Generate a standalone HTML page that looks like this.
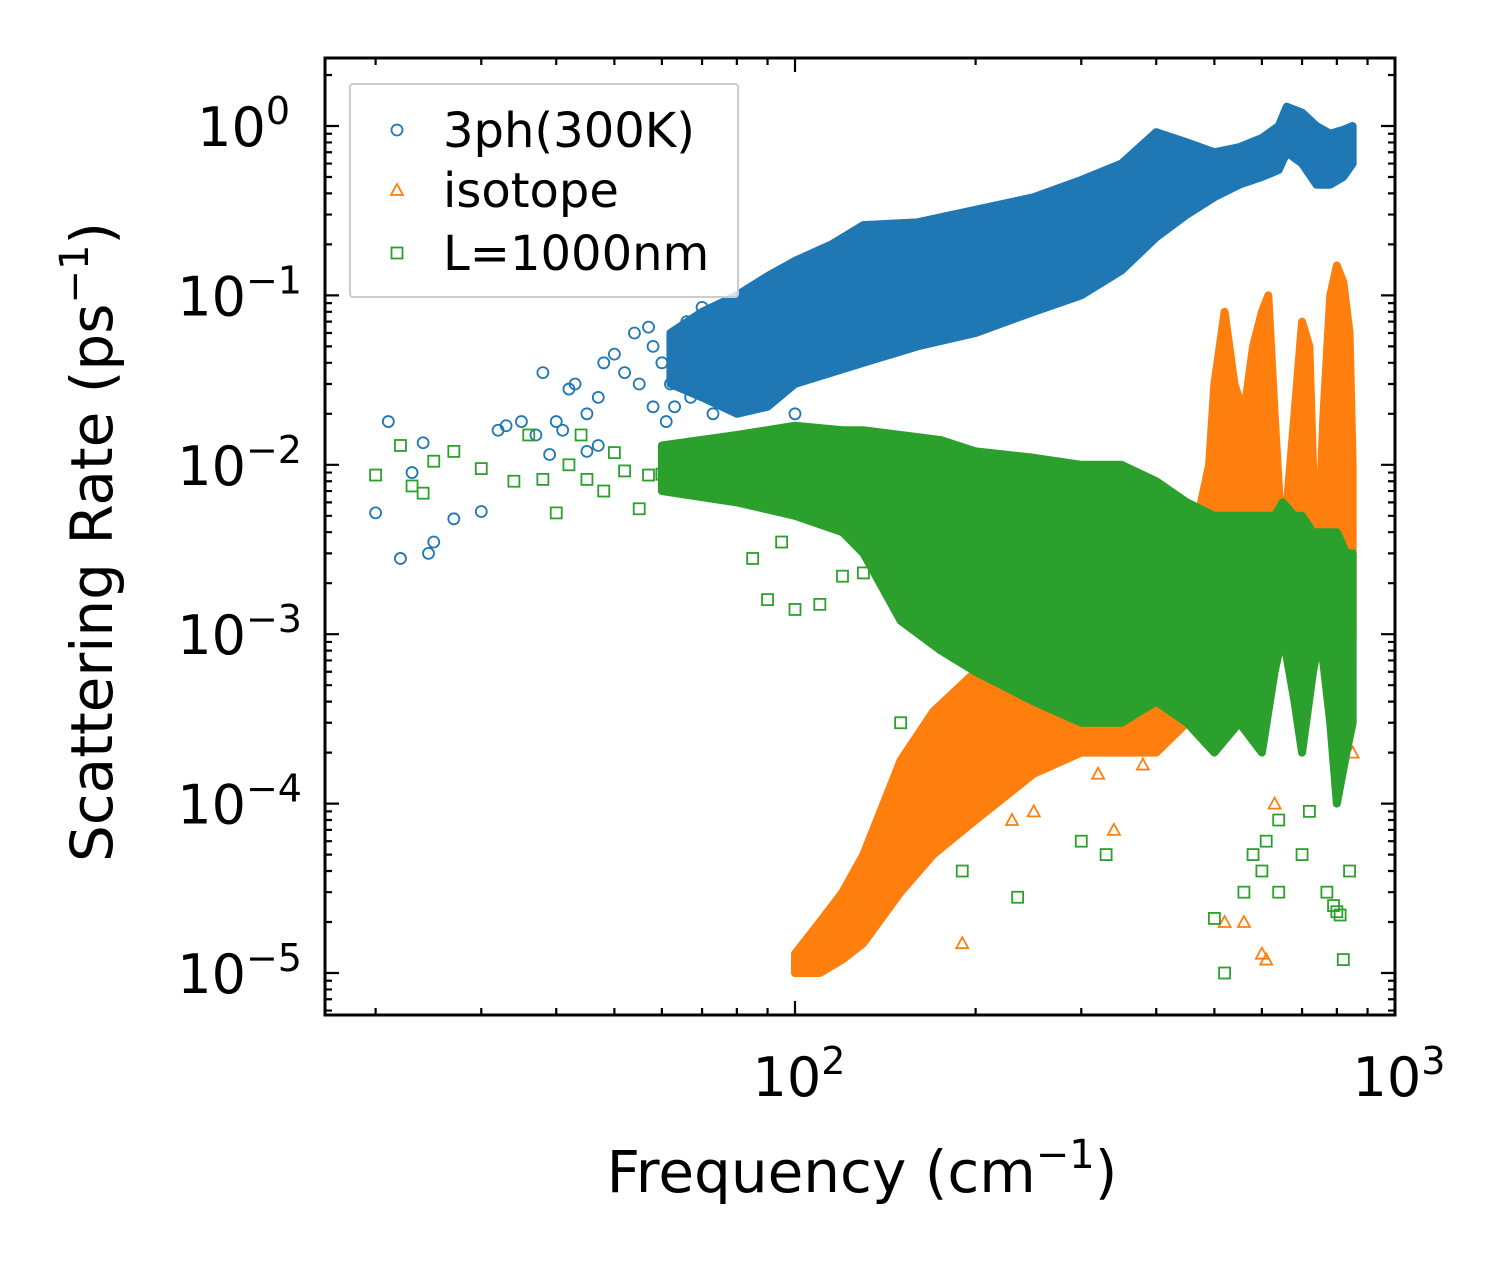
<!DOCTYPE html>
<html><head><meta charset="utf-8"><style>
body{margin:0;background:#fff}
svg text{font-family:"DejaVu Sans","Liberation Sans",sans-serif;fill:#000}
</style></head><body>
<svg id="c" width="1503" height="1265" xmlns="http://www.w3.org/2000/svg"></svg>
<script>
// ---- data (frequency cm^-1, rate ps^-1) ----
const blueBandF=[62,70,80,90,100,115,130,160,200,250,300,350,400,450,500,550,600,640,660,700,740,780,820,850];
const blueBandHi=[0.06,0.08,0.1,0.13,0.16,0.2,0.26,0.27,0.32,0.38,0.48,0.6,0.92,0.8,0.7,0.75,0.85,1.0,1.3,1.2,1.0,0.9,0.95,1.0];
const blueBandLo=[0.03,0.025,0.02,0.022,0.03,0.035,0.04,0.05,0.06,0.08,0.1,0.14,0.22,0.3,0.38,0.45,0.5,0.55,0.7,0.6,0.45,0.45,0.5,0.6];
const blueF=[20,21,22,23,24,24.5,25,27,30,32,33,35,37,38,40,42,43,45,47,48,50,52,54,55,57,58,60,62,64,66,68,70,72,75,78,80,85,90,95,100,45,47,41,39,63,67,73,58,61];
const blueR=[0.0052,0.018,0.0028,0.009,0.0135,0.003,0.0035,0.0048,0.0053,0.016,0.017,0.018,0.015,0.035,0.018,0.028,0.03,0.02,0.025,0.04,0.045,0.035,0.06,0.03,0.065,0.05,0.04,0.03,0.055,0.07,0.04,0.085,0.06,0.05,0.03,0.08,0.1,0.05,0.12,0.02,0.012,0.013,0.016,0.0115,0.022,0.025,0.02,0.022,0.018];
const orBandF=[100,110,120,130,150,170,200,250,300,350,400,450,470,490,500,520,540,560,580,600,615,630,650,680,700,720,740,760,780,800,820,840,850];
const orBandHi=[1.3e-5,2e-5,3e-5,5e-5,1.8e-4,3.5e-4,6e-4,8e-4,7e-4,8e-4,1e-3,2e-3,5e-3,0.01,0.03,0.08,0.03,0.02,0.05,0.08,0.1,0.02,0.003,0.02,0.07,0.05,0.002,0.02,0.1,0.15,0.12,0.06,0.01];
const orBandLo=[1e-5,1e-5,1.2e-5,1.5e-5,3e-5,5e-5,8e-5,1.5e-4,2e-4,2e-4,2e-4,3e-4,5e-4,8e-4,1e-3,1e-3,1e-3,1e-3,1e-3,1e-3,1e-3,1e-3,1e-3,1e-3,1e-3,1e-3,1e-3,1e-3,1e-3,1e-3,1e-3,1e-3,1e-3];
const orF=[190,230,250,320,340,380,520,560,600,610,630,850];
const orR=[1.5e-5,8e-5,9e-5,1.5e-4,7e-5,1.7e-4,2e-5,2e-5,1.3e-5,1.2e-5,1e-4,2e-4];
const grBandF=[60,80,100,120,130,150,175,200,250,300,350,400,450,500,550,600,630,650,680,700,730,750,780,800,830,850];
const grBandHi=[0.013,0.015,0.017,0.016,0.016,0.015,0.014,0.012,0.011,0.01,0.01,0.008,0.006,0.005,0.005,0.005,0.005,0.006,0.005,0.005,0.004,0.004,0.004,0.004,0.003,0.003];
const grBandLo=[0.007,0.006,0.005,0.004,0.003,0.0012,8e-4,6e-4,4e-4,3e-4,3e-4,4e-4,3e-4,2e-4,3e-4,2e-4,6e-4,1e-3,4e-4,2e-4,6e-4,1e-3,3e-4,1e-4,2e-4,3e-4];
const grF=[20,22,23,24,25,27,30,34,36,38,40,42,44,45,48,50,52,55,57,60,85,90,95,100,110,120,130,150,190,235,300,330,500,520,560,580,610,640,700,720,770,790,800,810,820,840,640,600];
const grR=[0.0087,0.013,0.0075,0.0068,0.0105,0.012,0.0095,0.008,0.015,0.0082,0.0052,0.01,0.015,0.0082,0.007,0.0118,0.0092,0.0055,0.0087,0.0088,0.0028,0.0016,0.0035,0.0014,0.0015,0.0022,0.0023,0.0003,0.00004,0.000028,0.00006,0.00005,0.000021,0.00001,0.00003,0.00005,0.00006,0.00008,0.00005,0.00009,0.00003,0.000025,0.000023,0.000022,0.000012,0.00004,0.00003,0.00004];
const xTicks=[100,1000], xTickLbl=["2","3"];
const yTicks=[1,0.1,0.01,0.001,0.0001,0.00001], yTickLbl=["0","\u22121","\u22122","\u22123","\u22124","\u22125"];
// ---- axes ----
const L=325,R=1395,T=58,B=1015;
const X=f=>795+600*(Math.log10(f)-2);
const Y=v=>126-169.4*Math.log10(v);
const svg=document.getElementById('c');const NS='http://www.w3.org/2000/svg';
function mk(t,a,p){const e=document.createElementNS(NS,t);for(const k in a)e.setAttribute(k,a[k]);(p||svg).appendChild(e);return e;}
function band(F,Hi,Lo,col,name){let d='M'+F.map((f,i)=>X(f)+','+Y(Hi[i])).join('L');
 for(let i=F.length-1;i>=0;i--)d+='L'+X(F[i])+','+Y(Lo[i]);
 const p=mk('path',{d:d+'Z',fill:col,stroke:col,'stroke-width':8,'stroke-linejoin':'round'});
 
 }
band(blueBandF,blueBandHi,blueBandLo,'#1f77b4','3ph-dense-band');
blueF.forEach((f,i)=>{const c=mk('circle',{cx:X(f),cy:Y(blueR[i]),r:5.5,fill:'none',stroke:'#1f77b4','stroke-width':1.8});
 
 });
band(orBandF,orBandHi,orBandLo,'#ff7f0e','isotope-dense-band');
orF.forEach((f,i)=>{const x=X(f),y=Y(orR[i]);const p=mk('path',{d:`M${x},${y-6}L${x+6},${y+5}L${x-6},${y+5}Z`,fill:'none',stroke:'#ff7f0e','stroke-width':1.8});
 
 });
band(grBandF,grBandHi,grBandLo,'#2ca02c','boundary-dense-band');
grF.forEach((f,i)=>{const r=mk('rect',{x:X(f)-5.5,y:Y(grR[i])-5.5,width:11,height:11,fill:'none',stroke:'#2ca02c','stroke-width':1.8});
 
 });
// frame and ticks
const fr=mk('rect',{x:L,y:T,width:R-L,height:B-T,fill:'none',stroke:'#000','stroke-width':3});

let td='';
for(let e=1;e<=2;e++)for(let m=1;m<10;m++){const f=m*Math.pow(10,e);const x=X(f);if(x<L||x>R)continue;const len=(m==1)?14:7;td+=`M${x},${B}v${-len}M${x},${T}v${len}`;}
td+=`M${R},${B}v-14M${R},${T}v14`;
for(let e=-6;e<=0;e++)for(let m=1;m<10;m++){const y=Y(m*Math.pow(10,e));if(y<T||y>B)continue;const len=(m==1)?14:7;td+=`M${L},${y}h${len}M${R},${y}h${-len}`;}
const tk=mk('path',{d:td,stroke:'#000','stroke-width':2.2,fill:'none'});
xTicks.forEach((v,i)=>{const t=mk('text',{x:X(v)+4,y:1096,'font-size':54,'text-anchor':'middle'});t.innerHTML=`10<tspan dy="-22" font-size="38">${xTickLbl[i]}</tspan>`;
 });
yTicks.forEach((v,i)=>{const t=mk('text',{x:i==0?290:302,y:Y(v)+20,'font-size':54,'text-anchor':'end'});t.innerHTML=`10<tspan dy="-22" font-size="38">${yTickLbl[i]}</tspan>`;
 });
const xl=mk('text',{x:862,y:1192,'font-size':58,'text-anchor':'middle'});xl.innerHTML='Frequency (cm<tspan dy="-24" font-size="40">\u22121</tspan><tspan dy="24">)</tspan>';

const yl=mk('text',{x:0,y:0,'font-size':58,'text-anchor':'middle',transform:'translate(112,542) rotate(-90)'});yl.innerHTML='Scattering Rate (ps<tspan dy="-24" font-size="40">\u22121</tspan><tspan dy="24">)</tspan>';

// legend
const lg=mk('g',{});
mk('rect',{x:350,y:84,width:388,height:213,fill:'#fff','fill-opacity':0.8,stroke:'#ccc','stroke-width':2,rx:3},lg);
mk('circle',{cx:397,cy:130,r:5.5,fill:'none',stroke:'#1f77b4','stroke-width':1.8},lg);
mk('path',{d:'M397,184L403,195L391,195Z',fill:'none',stroke:'#ff7f0e','stroke-width':1.8},lg);
mk('rect',{x:391.5,y:247.5,width:11,height:11,fill:'none',stroke:'#2ca02c','stroke-width':1.8},lg);
[['3ph(300K)',147],['isotope',207],['L=1000nm',270]].forEach(a=>{const t=mk('text',{x:443,y:a[1],'font-size':48},lg);t.textContent=a[0];
 });
</script>
</body></html>
